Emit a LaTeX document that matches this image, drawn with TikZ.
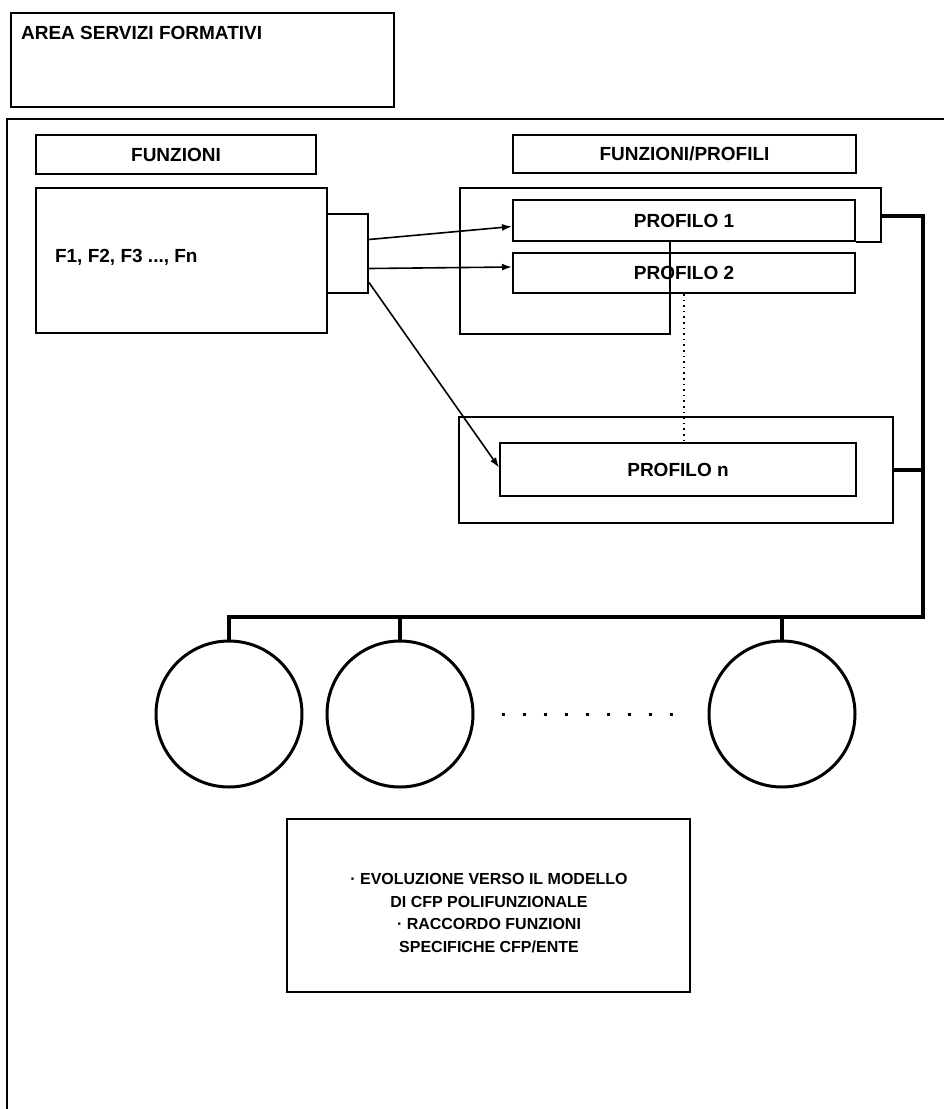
\documentclass[tikz,border=0pt]{standalone}
\usepackage{fontspec}
\setmainfont{Liberation Sans}
\usetikzlibrary{arrows.meta}

\begin{document}
\begin{tikzpicture}[x=0.5pt, y=-0.5pt,
		every node/.style={font=\fontsize{9.5}{11}\selectfont\bfseries},
		box/.style={draw, rectangle, line width=1pt, inner sep=0pt},
		arr/.style={line width=.8pt, -{Latex[length=5pt, width=3.5pt]}},
		bus/.style={line width=1.8pt},
		ring/.style={draw, circle, line width=1.5pt, minimum size=73pt, inner sep=0pt}]
		\useasboundingbox (0,0) rectangle (944,1109);
		\node (area) [box, anchor=north west, minimum width=191.5pt, minimum height=47pt] at (10,12) {};
		\node (areaTxt) [anchor=west] at (14,33) {AREA SERVIZI FORMATIVI};
		\draw [line width=1pt] (7,1109) -- (7,119) -- (944,119);
		%Funzioni
		\node (funz) [box, minimum width=140pt, minimum height=19.5pt] at (176,154.5) {FUNZIONI};
		\node (fBox) [box, minimum width=145.5pt, minimum height=72.5pt] at (181.5,260.5) {};
		\node (fList) [anchor=west] at (48,257) {F1, F2, F3 ..., Fn};
		\node (sb) [box, minimum width=20.5pt, minimum height=39.5pt] at (347.5,253.5) {};
		%Profili
		\node (fProf) [box, minimum width=171.5pt, minimum height=19pt] at (684.5,154) {FUNZIONI/PROFILI};
		\node (p1) [box, minimum width=171pt, minimum height=20.5pt] at (684,220.5) {PROFILO 1};
		\node (p2) [box, minimum width=171pt, minimum height=20pt] at (684,273) {PROFILO 2};
		\draw [line width=1pt] (670,241) |- (460,334) |- (881,188) |- (p1.south east);
		\node (gn) [box, minimum width=217pt, minimum height=53pt] at (676,470) {};
		\node (pn) [box, minimum width=178pt, minimum height=26.5pt] at (678,469.5) {PROFILO n};
		\draw [dotted, line width=.8pt] (p2.south) -- (p2.south |- pn.north);
		\draw [arr] (sb.east) ++(0,-14) -- ([yshift=-3pt]p1.west);
		\draw [arr] (sb.east) ++(0,15) -- ([yshift=3pt]p2.west);
		\draw [arr] (sb.east) ++(0,29) -- ([yshift=1pt]pn.west);
		%Cerchi
		\node (c1) [ring] at (229,714) {};
		\node (c2) [ring] at (400,714) {};
		\node (c3) [ring] at (782,714) {};
		\coordinate (g1r) at (881,216);
		\coordinate (busR) at (923,617);
		\draw [bus] (g1r) -| (busR) -- (busR -| c1.north) -- (c1.north);
		\draw [bus] (gn.east) -- (gn.east -| busR);
		\draw [bus] (busR -| c2.north) -- (c2.north);
		\draw [bus] (busR -| c3.north) -- (c3.north);
		\draw [line width=1.5pt, dash pattern=on 1.5pt off 9pt, shorten <=13.5pt, shorten >=17pt] (c2.east) -- (c3.west);
		%Evoluzione
		\node (evo) [box, minimum width=201.5pt, minimum height=86.5pt] at (488.5,905.5) {};
		\node (evoTxt) [align=center, font=\fontsize{8}{11.2}\selectfont\bfseries] at (489,913) {· EVOLUZIONE VERSO IL MODELLO\\DI CFP POLIFUNZIONALE\\· RACCORDO FUNZIONI\\SPECIFICHE CFP/ENTE};
	\end{tikzpicture}
\end{document}
